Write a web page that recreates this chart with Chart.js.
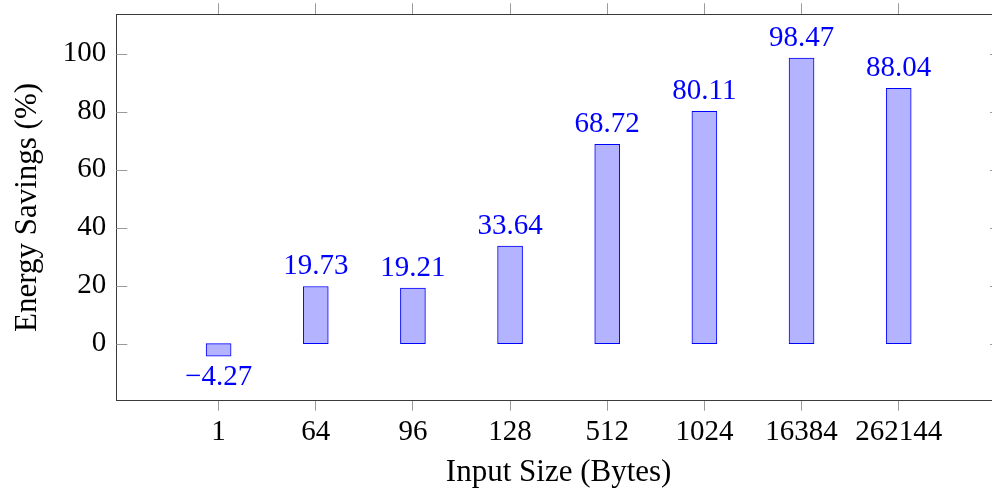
<!DOCTYPE html>
<html>
<head>
<meta charset="utf-8">
<script src="https://cdn.jsdelivr.net/npm/chart.js@4.4.1/dist/chart.umd.min.js"></script>
<style>
  html, body { margin: 0; padding: 0; background: #fff; overflow: hidden; }
  #wrap { width: 1012px; height: 491px; }
</style>
</head>
<body>
<div id="wrap"><canvas id="chart" width="1012" height="491"></canvas></div>
<script>
// Input sizes (bytes) and the measured energy savings for each
const inputSizes = ['1', '64', '96', '128', '512', '1024', '16384', '262144'];
const energySavings = [-4.27, 19.73, 19.21, 33.64, 68.72, 80.11, 98.47, 88.04];
const yTickValues = [0, 20, 40, 60, 80, 100];

const FONT = "'Liberation Serif', 'Times New Roman', serif";
const TEXT_SIZE = 29;
const TITLE_SIZE = 31;
const BAR_FILL = 'rgb(179,179,255)';
const BAR_EDGE = '#0000ff';
const TICK_GRAY = '#9a9a9a';
const AXIS_COLOR = '#3a3a3a';

const X_MIN = -1.053, X_MAX = 8.053;
const Y_MIN = -19.66, Y_MAX = 113.6;

const points = energySavings.map((v, i) => ({ x: i, y: v }));

const categoryTicks = (scale) => {
  scale.ticks = inputSizes.map((_, i) => ({ value: i }));
};

// keep label overhang from shrinking the plot area
const noOverhang = (s) => {
  s.paddingTop = 0; s.paddingBottom = 0;
  s.paddingLeft = 0; s.paddingRight = 0;
};

// value labels above (or below, when negative) each bar
const valueLabels = {
  id: 'valueLabels',
  afterDatasetsDraw(chart) {
    const { ctx } = chart;
    const meta = chart.getDatasetMeta(0);
    ctx.save();
    ctx.font = TEXT_SIZE + 'px ' + FONT;
    ctx.fillStyle = BAR_EDGE;
    ctx.textAlign = 'center';
    ctx.textBaseline = 'middle';
    meta.data.forEach((bar, i) => {
      const v = energySavings[i];
      const txt = (v < 0 ? '\u2212' : '') + Math.abs(v).toFixed(2);
      const y = v < 0 ? bar.y + 21 : bar.y - 20;
      ctx.fillText(txt, bar.x, y);
    });
    ctx.restore();
  }
};

// inward tick marks on the left and right value axes
const innerTicks = {
  id: 'innerTicks',
  afterDraw(chart) {
    const { ctx, chartArea } = chart;
    const y = chart.scales.y;
    ctx.save();
    ctx.strokeStyle = TICK_GRAY;
    ctx.lineWidth = 1;
    yTickValues.forEach(v => {
      const py = Math.round(y.getPixelForValue(v)) + 0.5;
      ctx.beginPath();
      ctx.moveTo(chartArea.left, py);
      ctx.lineTo(chartArea.left + 11, py);
      ctx.moveTo(chartArea.right, py);
      ctx.lineTo(chartArea.right - 11, py);
      ctx.stroke();
    });
    ctx.restore();
  }
};

new Chart(document.getElementById('chart'), {
  type: 'bar',
  data: {
    datasets: [{
      data: points,
      backgroundColor: BAR_FILL,
      borderColor: BAR_EDGE,
      borderWidth: 1,
      borderSkipped: false,
      barThickness: 25
    }]
  },
  plugins: [valueLabels, innerTicks],
  options: {
    responsive: false,
    animation: false,
    layout: { padding: 0 },
    plugins: { legend: { display: false }, tooltip: { enabled: false } },
    scales: {
      x: {
        type: 'linear',
        position: 'bottom',
        offset: false,
        min: X_MIN, max: X_MAX,
        afterBuildTicks: categoryTicks,
        afterFit: (s) => { s.height = 491 - 400.7; noOverhang(s); },
        grid: { display: true, offset: false, drawOnChartArea: false, drawTicks: true, tickLength: 10, color: TICK_GRAY },
        border: { display: true, color: AXIS_COLOR, width: 1 },
        ticks: {
          padding: 4,
          color: '#000',
          font: { family: FONT, size: TEXT_SIZE },
          maxRotation: 0,
          autoSkip: false,
          callback: (v) => inputSizes[v]
        },
        title: {
          display: true,
          text: 'Input Size (Bytes)',
          color: '#000',
          font: { family: FONT, size: TITLE_SIZE },
          padding: { top: 0, bottom: 0 }
        }
      },
      xTop: {
        type: 'linear',
        position: 'top',
        offset: false,
        min: X_MIN, max: X_MAX,
        afterBuildTicks: categoryTicks,
        afterFit: (s) => { s.height = 14.3; noOverhang(s); },
        grid: { display: true, offset: false, drawOnChartArea: false, drawTicks: true, tickLength: 11, color: TICK_GRAY },
        border: { display: true, color: AXIS_COLOR, width: 1 },
        ticks: { display: false }
      },
      y: {
        type: 'linear',
        position: 'left',
        min: Y_MIN, max: Y_MAX,
        afterBuildTicks: (s) => { s.ticks = yTickValues.map(v => ({ value: v })); },
        afterFit: (s) => { s.width = 116.3; noOverhang(s); },
        grid: { display: false, drawTicks: false },
        border: { display: true, color: AXIS_COLOR, width: 1 },
        ticks: {
          padding: 10,
          color: '#000',
          font: { family: FONT, size: TEXT_SIZE }
        },
        title: {
          display: true,
          text: 'Energy Savings (%)',
          color: '#000',
          font: { family: FONT, size: TITLE_SIZE },
          padding: { top: 9, bottom: 0 }
        }
      },
      yRight: {
        type: 'linear',
        position: 'right',
        min: Y_MIN, max: Y_MAX,
        afterFit: (s) => { s.width = 1012 - 1001; noOverhang(s); },
        grid: { display: false, drawTicks: false },
        border: { display: true, color: AXIS_COLOR, width: 1 },
        ticks: { display: false }
      }
    }
  }
});
</script>
</body>
</html>
